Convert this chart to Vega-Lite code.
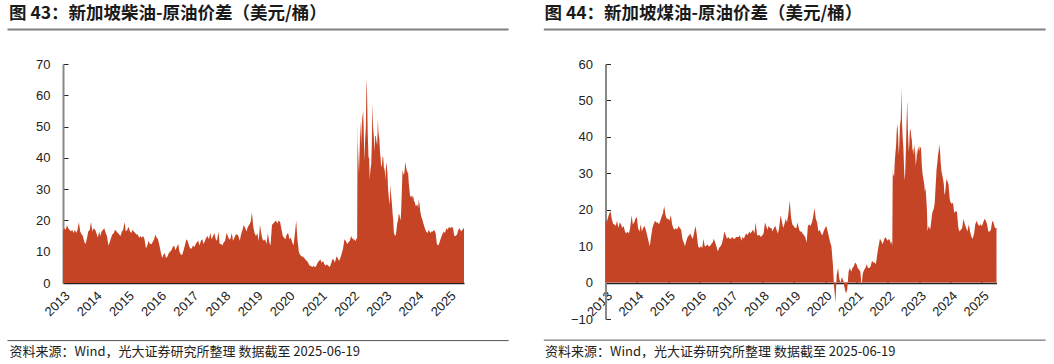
{
"$schema": "https://vega.github.io/schema/vega-lite/v6.json",
"background": "white",
"padding": {"left": 6, "top": 4, "right": 0, "bottom": 0},
"config": {
 "view": {"stroke": null},
 "font": "Liberation Sans",
 "axis": {"labelFont": "Liberation Sans", "labelFontSize": 13, "labelColor": "#222222", "grid": false, "tickColor": "#222222", "tickWidth": 1, "labelOverlap": false},
 "title": {"font": "Noto Sans CJK SC", "fontSize": 17.5, "fontWeight": "bold", "color": "#1a1a1a", "anchor": "start", "frame": "group"}
},
"spacing": 32.5,
"data": {"values": [
{"date":"2013-01-01","diesel":16.5,"jet":17.5},{"date":"2013-01-15","diesel":17.5,"jet":16.5},{"date":"2013-02-01","diesel":17,"jet":18},{"date":"2013-02-15","diesel":18.5,"jet":19},{"date":"2013-03-01","diesel":17.5,"jet":19.5},{"date":"2013-03-15","diesel":17,"jet":17.5},{"date":"2013-04-01","diesel":16.5,"jet":16},{"date":"2013-04-15","diesel":17,"jet":16},{"date":"2013-05-01","diesel":16,"jet":15.5},{"date":"2013-05-15","diesel":17,"jet":17},{"date":"2013-06-01","diesel":16,"jet":15},{"date":"2013-06-15","diesel":17,"jet":16.5},{"date":"2013-07-01","diesel":19.5,"jet":16},{"date":"2013-07-15","diesel":16.5,"jet":15},{"date":"2013-08-01","diesel":15.5,"jet":15.5},{"date":"2013-08-15","diesel":15,"jet":14},{"date":"2013-09-01","diesel":13,"jet":13.5},{"date":"2013-09-15","diesel":12.5,"jet":14},{"date":"2013-10-01","diesel":14.5,"jet":13.5},{"date":"2013-10-15","diesel":16.5,"jet":15},{"date":"2013-11-01","diesel":17,"jet":18.5},{"date":"2013-11-15","diesel":19.5,"jet":16},{"date":"2013-12-01","diesel":16.5,"jet":16.5},{"date":"2013-12-15","diesel":17.5,"jet":17.5},
{"date":"2014-01-01","diesel":17,"jet":18},{"date":"2014-01-15","diesel":16,"jet":15},{"date":"2014-02-01","diesel":14.5,"jet":14},{"date":"2014-02-15","diesel":16.5,"jet":16},{"date":"2014-03-01","diesel":15,"jet":14},{"date":"2014-03-15","diesel":16.5,"jet":15},{"date":"2014-04-01","diesel":17,"jet":15.5},{"date":"2014-04-15","diesel":17.5,"jet":14.5},{"date":"2014-05-01","diesel":16,"jet":13},{"date":"2014-05-15","diesel":15,"jet":11.5},{"date":"2014-06-01","diesel":12,"jet":10},{"date":"2014-06-15","diesel":13,"jet":12.5},{"date":"2014-07-01","diesel":14.5,"jet":15},{"date":"2014-07-15","diesel":15.5,"jet":16},{"date":"2014-08-01","diesel":16,"jet":17},{"date":"2014-08-15","diesel":17,"jet":16.5},{"date":"2014-09-01","diesel":16.5,"jet":16.5},{"date":"2014-09-15","diesel":16,"jet":16},{"date":"2014-10-01","diesel":15.5,"jet":17},{"date":"2014-10-15","diesel":15,"jet":18},{"date":"2014-11-01","diesel":16.5,"jet":19},{"date":"2014-11-15","diesel":17,"jet":21},{"date":"2014-12-01","diesel":19.5,"jet":18.5},{"date":"2014-12-15","diesel":16.5,"jet":17.5},
{"date":"2015-01-01","diesel":17,"jet":17.5},{"date":"2015-01-15","diesel":18,"jet":17},{"date":"2015-02-01","diesel":16.5,"jet":18.5},{"date":"2015-02-15","diesel":16,"jet":16},{"date":"2015-03-01","diesel":17,"jet":15},{"date":"2015-03-15","diesel":16.5,"jet":14.5},{"date":"2015-04-01","diesel":16,"jet":15},{"date":"2015-04-15","diesel":15.5,"jet":14.5},{"date":"2015-05-01","diesel":15.5,"jet":15.5},{"date":"2015-05-15","diesel":14.5,"jet":15},{"date":"2015-06-01","diesel":15,"jet":14.5},{"date":"2015-06-15","diesel":14.5,"jet":12},{"date":"2015-07-01","diesel":15,"jet":11},{"date":"2015-07-15","diesel":14,"jet":10},{"date":"2015-08-01","diesel":11,"jet":11.5},{"date":"2015-08-15","diesel":12,"jet":12.5},{"date":"2015-09-01","diesel":13.5,"jet":13},{"date":"2015-09-15","diesel":12.5,"jet":13.5},{"date":"2015-10-01","diesel":12.5,"jet":12.5},{"date":"2015-10-15","diesel":13,"jet":12},{"date":"2015-11-01","diesel":14,"jet":14},{"date":"2015-11-15","diesel":15.5,"jet":15.5},{"date":"2015-12-01","diesel":14.5,"jet":13},{"date":"2015-12-15","diesel":14,"jet":10},
{"date":"2016-01-01","diesel":12,"jet":9.5},{"date":"2016-01-15","diesel":10,"jet":10},{"date":"2016-02-01","diesel":8,"jet":9.5},{"date":"2016-02-15","diesel":9,"jet":12},{"date":"2016-03-01","diesel":9.5,"jet":10},{"date":"2016-03-15","diesel":8,"jet":10},{"date":"2016-04-01","diesel":8.5,"jet":10.5},{"date":"2016-04-15","diesel":9.5,"jet":10},{"date":"2016-05-01","diesel":10,"jet":10},{"date":"2016-05-15","diesel":10.5,"jet":10.5},{"date":"2016-06-01","diesel":11.5,"jet":11},{"date":"2016-06-15","diesel":12,"jet":12},{"date":"2016-07-01","diesel":10.5,"jet":11},{"date":"2016-07-15","diesel":11.5,"jet":10},{"date":"2016-08-01","diesel":12.5,"jet":8.5},{"date":"2016-08-15","diesel":10,"jet":9.5},{"date":"2016-09-01","diesel":9,"jet":10},{"date":"2016-09-15","diesel":9,"jet":10.5},{"date":"2016-10-01","diesel":10.5,"jet":12},{"date":"2016-10-15","diesel":12,"jet":14},{"date":"2016-11-01","diesel":14,"jet":13},{"date":"2016-11-15","diesel":13.5,"jet":12},{"date":"2016-12-01","diesel":12,"jet":12.5},{"date":"2016-12-15","diesel":11,"jet":12},
{"date":"2017-01-01","diesel":11,"jet":12},{"date":"2017-01-15","diesel":12,"jet":12.5},{"date":"2017-02-01","diesel":11.5,"jet":12},{"date":"2017-02-15","diesel":12.5,"jet":12},{"date":"2017-03-01","diesel":13,"jet":12.5},{"date":"2017-03-15","diesel":13.5,"jet":12.5},{"date":"2017-04-01","diesel":12,"jet":12.5},{"date":"2017-04-15","diesel":13.5,"jet":13},{"date":"2017-05-01","diesel":14,"jet":11.5},{"date":"2017-05-15","diesel":12.5,"jet":12.5},{"date":"2017-06-01","diesel":13.5,"jet":12},{"date":"2017-06-15","diesel":14.5,"jet":13},{"date":"2017-07-01","diesel":15,"jet":13.5},{"date":"2017-07-15","diesel":14,"jet":13},{"date":"2017-08-01","diesel":16,"jet":14},{"date":"2017-08-15","diesel":14,"jet":13.5},{"date":"2017-09-01","diesel":15,"jet":14},{"date":"2017-09-15","diesel":16,"jet":14.5},{"date":"2017-10-01","diesel":14,"jet":13.5},{"date":"2017-10-15","diesel":13.5,"jet":16.5},{"date":"2017-11-01","diesel":16.5,"jet":13},{"date":"2017-11-15","diesel":12.5,"jet":13},{"date":"2017-12-01","diesel":12.5,"jet":13},{"date":"2017-12-15","diesel":12,"jet":12.5},
{"date":"2018-01-01","diesel":13,"jet":13},{"date":"2018-01-15","diesel":13.5,"jet":13.5},{"date":"2018-02-01","diesel":16,"jet":16.5},{"date":"2018-02-15","diesel":15,"jet":15.5},{"date":"2018-03-01","diesel":14,"jet":14.5},{"date":"2018-03-15","diesel":14,"jet":15.5},{"date":"2018-04-01","diesel":16,"jet":15},{"date":"2018-04-15","diesel":13.5,"jet":15},{"date":"2018-05-01","diesel":14.5,"jet":14},{"date":"2018-05-15","diesel":15.5,"jet":15},{"date":"2018-06-01","diesel":15.5,"jet":15.5},{"date":"2018-06-15","diesel":15,"jet":14.5},{"date":"2018-07-01","diesel":13.5,"jet":13.5},{"date":"2018-07-15","diesel":15.5,"jet":15},{"date":"2018-08-01","diesel":17,"jet":18.5},{"date":"2018-08-15","diesel":18.5,"jet":17},{"date":"2018-09-01","diesel":17.5,"jet":15},{"date":"2018-09-15","diesel":16.5,"jet":16},{"date":"2018-10-01","diesel":18,"jet":17.5},{"date":"2018-10-15","diesel":18.5,"jet":16.5},{"date":"2018-11-01","diesel":19.5,"jet":19},{"date":"2018-11-15","diesel":22.5,"jet":22.5},{"date":"2018-12-01","diesel":18,"jet":18},{"date":"2018-12-15","diesel":16,"jet":16},
{"date":"2019-01-01","diesel":15,"jet":15.5},{"date":"2019-01-15","diesel":16,"jet":15},{"date":"2019-02-01","diesel":13.5,"jet":15},{"date":"2019-02-15","diesel":18.5,"jet":16.5},{"date":"2019-03-01","diesel":16,"jet":15},{"date":"2019-03-15","diesel":14,"jet":14},{"date":"2019-04-01","diesel":13.5,"jet":14},{"date":"2019-04-15","diesel":14,"jet":13.5},{"date":"2019-05-01","diesel":12.5,"jet":13},{"date":"2019-05-15","diesel":16,"jet":12.5},{"date":"2019-06-01","diesel":13,"jet":11},{"date":"2019-06-15","diesel":12,"jet":15.5},{"date":"2019-07-01","diesel":18.5,"jet":16},{"date":"2019-07-15","diesel":19,"jet":15.5},{"date":"2019-08-01","diesel":19.5,"jet":16.5},{"date":"2019-08-15","diesel":20,"jet":18},{"date":"2019-09-01","diesel":19,"jet":20.5},{"date":"2019-09-15","diesel":20,"jet":17.5},{"date":"2019-10-01","diesel":19.5,"jet":16.5},{"date":"2019-10-15","diesel":17.5,"jet":14},{"date":"2019-11-01","diesel":15,"jet":14.5},{"date":"2019-11-15","diesel":14.5,"jet":13.5},{"date":"2019-12-01","diesel":14,"jet":13},{"date":"2019-12-15","diesel":15.5,"jet":14},
{"date":"2020-01-01","diesel":16,"jet":15},{"date":"2020-01-15","diesel":14,"jet":15.5},{"date":"2020-02-01","diesel":14.5,"jet":14},{"date":"2020-02-15","diesel":13,"jet":12.5},{"date":"2020-03-01","diesel":12,"jet":11},{"date":"2020-03-15","diesel":15,"jet":10},{"date":"2020-04-01","diesel":20,"jet":5},{"date":"2020-04-15","diesel":14,"jet":-1},{"date":"2020-05-01","diesel":10,"jet":-5.5},{"date":"2020-05-15","diesel":9,"jet":2},{"date":"2020-06-01","diesel":8.5,"jet":4},{"date":"2020-06-15","diesel":8.5,"jet":1},{"date":"2020-07-01","diesel":8,"jet":0},{"date":"2020-07-15","diesel":7.5,"jet":1.5},{"date":"2020-08-01","diesel":7,"jet":0.5},{"date":"2020-08-15","diesel":6.5,"jet":-1.5},{"date":"2020-09-01","diesel":5.5,"jet":-3},{"date":"2020-09-15","diesel":5.5,"jet":-2},{"date":"2020-10-01","diesel":5,"jet":3},{"date":"2020-10-15","diesel":5.5,"jet":4},{"date":"2020-11-01","diesel":5,"jet":3},{"date":"2020-11-15","diesel":5.5,"jet":4},{"date":"2020-12-01","diesel":6.5,"jet":4.5},{"date":"2020-12-15","diesel":7,"jet":5.5},
{"date":"2021-01-01","diesel":7.5,"jet":5},{"date":"2021-01-15","diesel":6.5,"jet":4},{"date":"2021-02-01","diesel":7,"jet":3.5},{"date":"2021-02-15","diesel":6,"jet":3},{"date":"2021-03-01","diesel":5.5,"jet":-1},{"date":"2021-03-15","diesel":6,"jet":2.5},{"date":"2021-04-01","diesel":5.5,"jet":3.5},{"date":"2021-04-15","diesel":5,"jet":4},{"date":"2021-05-01","diesel":6,"jet":5},{"date":"2021-05-15","diesel":7.5,"jet":4},{"date":"2021-06-01","diesel":7.5,"jet":4},{"date":"2021-06-15","diesel":6.5,"jet":4.5},{"date":"2021-07-01","diesel":8.5,"jet":6},{"date":"2021-07-15","diesel":8,"jet":5.5},{"date":"2021-08-01","diesel":7,"jet":5.5},{"date":"2021-08-15","diesel":8,"jet":5},{"date":"2021-09-01","diesel":9.5,"jet":8},{"date":"2021-09-15","diesel":11,"jet":10},{"date":"2021-10-01","diesel":14,"jet":12},{"date":"2021-10-15","diesel":13.5,"jet":11.5},{"date":"2021-11-01","diesel":12.5,"jet":10.5},{"date":"2021-11-15","diesel":13,"jet":11.5},{"date":"2021-12-01","diesel":13.5,"jet":12.5},{"date":"2021-12-15","diesel":15,"jet":12},
{"date":"2022-01-01","diesel":14,"jet":11.5},{"date":"2022-01-08","diesel":14.5,"jet":12},{"date":"2022-01-15","diesel":13.5,"jet":11.5},{"date":"2022-01-22","diesel":14,"jet":12},{"date":"2022-02-01","diesel":13.5,"jet":11},{"date":"2022-02-08","diesel":13.5,"jet":10.5},{"date":"2022-02-15","diesel":14.5,"jet":11.5},{"date":"2022-02-22","diesel":14,"jet":10},{"date":"2022-02-27","diesel":51.5,"jet":32},{"date":"2022-03-01","diesel":45,"jet":29},{"date":"2022-03-08","diesel":40,"jet":30},{"date":"2022-03-15","diesel":35,"jet":29},{"date":"2022-03-22","diesel":42,"jet":33},{"date":"2022-04-01","diesel":52,"jet":36},{"date":"2022-04-08","diesel":44,"jet":38},{"date":"2022-04-15","diesel":50,"jet":42},{"date":"2022-04-22","diesel":53,"jet":43.5},{"date":"2022-05-01","diesel":55,"jet":40},{"date":"2022-05-08","diesel":48,"jet":35},{"date":"2022-05-15","diesel":39,"jet":38},{"date":"2022-05-22","diesel":45,"jet":43},{"date":"2022-06-01","diesel":50,"jet":45},{"date":"2022-06-08","diesel":65.5,"jet":53.5},{"date":"2022-06-15","diesel":60,"jet":44},{"date":"2022-06-22","diesel":48,"jet":40},{"date":"2022-07-01","diesel":40,"jet":37},{"date":"2022-07-08","diesel":40,"jet":32},{"date":"2022-07-15","diesel":33,"jet":28},{"date":"2022-07-22","diesel":36,"jet":30},{"date":"2022-08-01","diesel":38,"jet":38},{"date":"2022-08-08","diesel":45,"jet":45},{"date":"2022-08-15","diesel":57.5,"jet":50},{"date":"2022-08-22","diesel":50,"jet":42},{"date":"2022-09-01","diesel":46,"jet":36},{"date":"2022-09-08","diesel":42,"jet":38},{"date":"2022-09-15","diesel":47,"jet":42},{"date":"2022-09-22","diesel":47,"jet":42},{"date":"2022-10-01","diesel":45,"jet":40},{"date":"2022-10-08","diesel":44,"jet":39},{"date":"2022-10-15","diesel":52.5,"jet":36},{"date":"2022-10-22","diesel":48,"jet":37},{"date":"2022-11-01","diesel":46,"jet":35},{"date":"2022-11-08","diesel":42,"jet":38},{"date":"2022-11-15","diesel":40,"jet":36},{"date":"2022-11-22","diesel":37,"jet":32},{"date":"2022-12-01","diesel":38,"jet":34},{"date":"2022-12-08","diesel":40.5,"jet":37},{"date":"2022-12-15","diesel":40,"jet":35},{"date":"2022-12-22","diesel":37,"jet":37.5},
{"date":"2023-01-01","diesel":36,"jet":36},{"date":"2023-01-08","diesel":33,"jet":37.5},{"date":"2023-01-15","diesel":37,"jet":37},{"date":"2023-01-22","diesel":38.5,"jet":37},{"date":"2023-02-01","diesel":35,"jet":32},{"date":"2023-02-08","diesel":30,"jet":30},{"date":"2023-02-15","diesel":28,"jet":29},{"date":"2023-02-22","diesel":25,"jet":28},{"date":"2023-03-01","diesel":27,"jet":27},{"date":"2023-03-08","diesel":31.5,"jet":25},{"date":"2023-03-15","diesel":28,"jet":26},{"date":"2023-03-22","diesel":26,"jet":24},{"date":"2023-04-01","diesel":22,"jet":20},{"date":"2023-04-08","diesel":20,"jet":14},{"date":"2023-04-15","diesel":16,"jet":15},{"date":"2023-04-22","diesel":15.5,"jet":15.5},{"date":"2023-05-01","diesel":15,"jet":15},{"date":"2023-05-08","diesel":15.5,"jet":14.5},{"date":"2023-05-15","diesel":17,"jet":15.5},{"date":"2023-05-22","diesel":19,"jet":17},{"date":"2023-06-01","diesel":20,"jet":19},{"date":"2023-06-08","diesel":22,"jet":19.5},{"date":"2023-06-15","diesel":22,"jet":20},{"date":"2023-06-22","diesel":21,"jet":20.5},{"date":"2023-07-01","diesel":20,"jet":22},{"date":"2023-07-08","diesel":24,"jet":25},{"date":"2023-07-15","diesel":30,"jet":28},{"date":"2023-07-22","diesel":36,"jet":31},{"date":"2023-08-01","diesel":35,"jet":33},{"date":"2023-08-08","diesel":34.5,"jet":35},{"date":"2023-08-15","diesel":36,"jet":36},{"date":"2023-08-22","diesel":38.7,"jet":38},{"date":"2023-09-01","diesel":37,"jet":36},{"date":"2023-09-08","diesel":36,"jet":33},{"date":"2023-09-15","diesel":35,"jet":31},{"date":"2023-09-22","diesel":36,"jet":30},{"date":"2023-10-01","diesel":32,"jet":29},{"date":"2023-10-08","diesel":30,"jet":28},{"date":"2023-10-15","diesel":28,"jet":27},{"date":"2023-10-22","diesel":27.5,"jet":24},{"date":"2023-11-01","diesel":28,"jet":25},{"date":"2023-11-08","diesel":27,"jet":27},{"date":"2023-11-15","diesel":28,"jet":28.5},{"date":"2023-11-22","diesel":27.5,"jet":28},{"date":"2023-12-01","diesel":26,"jet":27.5},{"date":"2023-12-08","diesel":26,"jet":27},{"date":"2023-12-15","diesel":25,"jet":25},{"date":"2023-12-22","diesel":24.5,"jet":23},
{"date":"2024-01-01","diesel":25,"jet":22},{"date":"2024-01-08","diesel":25,"jet":22},{"date":"2024-01-15","diesel":24,"jet":21.5},{"date":"2024-01-22","diesel":26.5,"jet":22},{"date":"2024-02-01","diesel":25,"jet":21.5},{"date":"2024-02-08","diesel":23,"jet":20},{"date":"2024-02-15","diesel":22,"jet":19},{"date":"2024-02-22","diesel":21,"jet":19.5},{"date":"2024-03-01","diesel":20.5,"jet":19.5},{"date":"2024-03-15","diesel":19,"jet":19.5},{"date":"2024-04-01","diesel":17.5,"jet":15},{"date":"2024-04-15","diesel":16.5,"jet":14},{"date":"2024-05-01","diesel":16,"jet":14.5},{"date":"2024-05-15","diesel":17,"jet":15},{"date":"2024-06-01","diesel":16,"jet":17.5},{"date":"2024-06-15","diesel":16.5,"jet":16},{"date":"2024-07-01","diesel":16.5,"jet":15},{"date":"2024-07-15","diesel":17,"jet":14},{"date":"2024-08-01","diesel":16,"jet":16},{"date":"2024-08-15","diesel":12.5,"jet":14},{"date":"2024-09-01","diesel":12,"jet":12.5},{"date":"2024-09-15","diesel":13,"jet":12},{"date":"2024-10-01","diesel":14.5,"jet":13.5},{"date":"2024-10-15","diesel":15.5,"jet":16},{"date":"2024-11-01","diesel":16.5,"jet":17},{"date":"2024-11-15","diesel":16,"jet":16},{"date":"2024-12-01","diesel":17.5,"jet":15.5},{"date":"2024-12-15","diesel":17,"jet":16},
{"date":"2025-01-01","diesel":18,"jet":15.5},{"date":"2025-01-15","diesel":17.5,"jet":16.5},{"date":"2025-02-01","diesel":18,"jet":17.5},{"date":"2025-02-15","diesel":17.5,"jet":17},{"date":"2025-03-01","diesel":15,"jet":16},{"date":"2025-03-15","diesel":15,"jet":14},{"date":"2025-04-01","diesel":15.5,"jet":14},{"date":"2025-04-15","diesel":17,"jet":14.5},{"date":"2025-05-01","diesel":17.5,"jet":17},{"date":"2025-05-15","diesel":16.5,"jet":16.5},{"date":"2025-06-01","diesel":17,"jet":15},{"date":"2025-06-15","diesel":17.5,"jet":15},{"date":"2025-06-19","diesel":17.5,"jet":15}
]},
"hconcat": [
 {
  "width": 401, "height": 219,
  "title": {"text": "图 43：新加坡柴油-原油价差（美元/桶）", "dx": -54, "offset": 6},
  "resolve": {"axis": {"x": "independent", "y": "independent"}},
  "layer": [
   {
    "mark": {"type": "area", "color": "#c44425"},
    "encoding": {
     "x": {"field": "date", "type": "temporal",
       "scale": {"domain": [{"year": 2013, "month": 1, "date": 1}, {"year": 2025, "month": 6, "date": 19}]},
       "axis": {"values": [{"year":2013},{"year":2014},{"year":2015},{"year":2016},{"year":2017},{"year":2018},{"year":2019},{"year":2020},{"year":2021},{"year":2022},{"year":2023},{"year":2024},{"year":2025}],
         "format": "%Y", "labelAngle": -45, "labelFlush": false, "tickSize": -4, "labelPadding": 10, "domainColor": "#222222", "domainWidth": 1.5,
         "encode": {"labels": {"update": {"angle": {"value": -45}, "align": {"value": "right"}, "baseline": {"value": "middle"}}}},
         "title": "资料来源：Wind，光大证券研究所整理  数据截至 2025-06-19", "titleFont": "Noto Sans CJK SC", "titleFontSize": 13, "titleFontWeight": "normal", "titleColor": "#222222", "titleAnchor": "start", "titleAlign": "left", "titleBaseline": "alphabetic", "titleX": -54, "titleY": 72}},
     "y": {"field": "diesel", "type": "quantitative",
       "scale": {"domain": [0, 70], "nice": false},
       "axis": {"values": [0,10,20,30,40,50,60,70], "tickSize": -5, "labelPadding": 18, "domainColor": "#888888", "domainWidth": 2, "title": null}}
    }
   },
   {
    "data": {"values": [{}]},
    "mark": {"type": "rule", "color": "#808080", "strokeWidth": 2},
    "encoding": {
     "x": {"datum": {"year": 2011, "month": 4, "date": 12}, "type": "temporal", "axis": null},
     "x2": {"datum": {"year": 2026, "month": 11, "date": 7}},
     "y": {"datum": 81, "type": "quantitative", "axis": null}
    }
   },
   {
    "data": {"values": [{}]},
    "mark": {"type": "rule", "color": "#555555", "strokeWidth": 1},
    "encoding": {
     "x": {"datum": {"year": 2011, "month": 4, "date": 12}, "type": "temporal", "axis": null},
     "x2": {"datum": {"year": 2026, "month": 11, "date": 7}},
     "y": {"datum": -18.4, "type": "quantitative", "axis": null}
    }
   }
  ]
 },
 {
  "width": 391, "height": 255,
  "title": {"text": "图 44：新加坡煤油-原油价差（美元/桶）", "dx": -61, "offset": 6},
  "resolve": {"axis": {"x": "independent", "y": "independent"}},
  "layer": [
   {
    "mark": {"type": "area", "color": "#c44425"},
    "encoding": {
     "x": {"field": "date", "type": "temporal",
       "scale": {"domain": [{"year": 2013, "month": 1, "date": 1}, {"year": 2025, "month": 6, "date": 19}]},
       "axis": {"values": [{"year":2013},{"year":2014},{"year":2015},{"year":2016},{"year":2017},{"year":2018},{"year":2019},{"year":2020},{"year":2021},{"year":2022},{"year":2023},{"year":2024},{"year":2025}],
         "format": "%Y", "labelAngle": -45, "labelFlush": false, "tickSize": -4, "labelPadding": 10, "domainColor": "#222222", "domainWidth": 1.5, "offset": -36,
         "encode": {"labels": {"update": {"angle": {"value": -45}, "align": {"value": "right"}, "baseline": {"value": "middle"}}}},
         "title": "资料来源：Wind，光大证券研究所整理  数据截至 2025-06-19", "titleFont": "Noto Sans CJK SC", "titleFontSize": 13, "titleFontWeight": "normal", "titleColor": "#222222", "titleAnchor": "start", "titleAlign": "left", "titleBaseline": "alphabetic", "titleX": -61, "titleY": 72}},
     "y": {"field": "jet", "type": "quantitative",
       "scale": {"domain": [-10, 60], "nice": false},
       "axis": {"values": [-10,0,10,20,30,40,50,60], "tickSize": -5, "labelPadding": 18, "domainColor": "#888888", "domainWidth": 2, "title": null}}
    }
   },
   {
    "data": {"values": [{}]},
    "mark": {"type": "rule", "color": "#808080", "strokeWidth": 2},
    "encoding": {
     "x": {"datum": {"year": 2011, "month": 1, "date": 14}, "type": "temporal", "axis": null},
     "x2": {"datum": {"year": 2027, "month": 1, "date": 12}},
     "y": {"datum": 69.5, "type": "quantitative", "axis": null}
    }
   },
   {
    "data": {"values": [{}]},
    "mark": {"type": "rule", "color": "#555555", "strokeWidth": 1},
    "encoding": {
     "x": {"datum": {"year": 2011, "month": 1, "date": 14}, "type": "temporal", "axis": null},
     "x2": {"datum": {"year": 2027, "month": 1, "date": 12}},
     "y": {"datum": -15.8, "type": "quantitative", "axis": null}
    }
   }
  ]
 }
]
}
